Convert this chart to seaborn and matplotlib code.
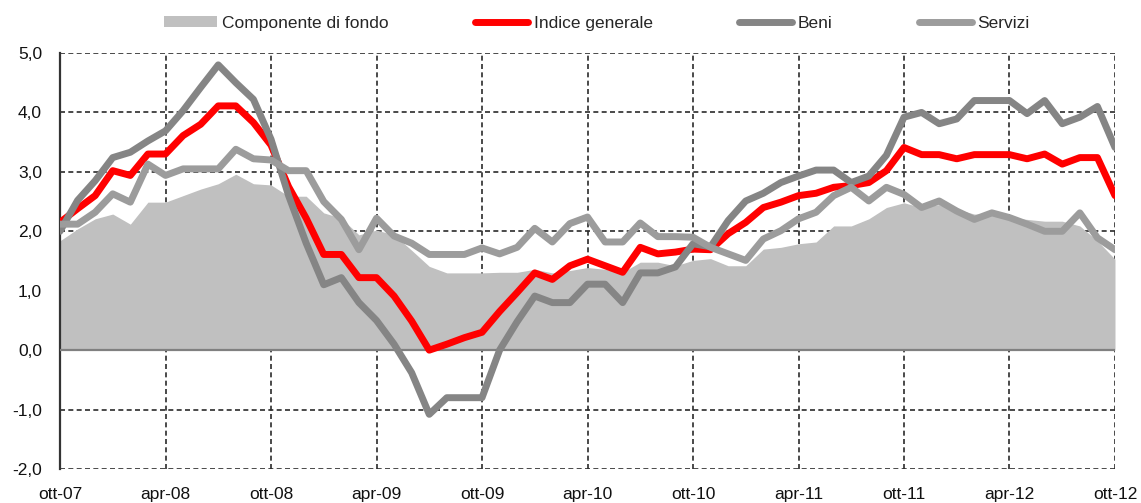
import matplotlib
matplotlib.use("Agg")
import matplotlib.pyplot as plt
import numpy as np
import pandas as pd
import seaborn as sns
from matplotlib import font_manager
from matplotlib.ticker import FuncFormatter

# monthly values, ott-07 .. ott-12 (61 months)
fondo = [1.84, 2.04, 2.21, 2.29, 2.12, 2.49, 2.49, 2.60, 2.71, 2.80, 2.96, 2.80,
         2.78, 2.59, 2.59, 2.31, 2.22, 1.94, 2.02, 1.94, 1.68, 1.41, 1.30, 1.30,
         1.30, 1.31, 1.31, 1.36, 1.30, 1.34, 1.39, 1.36, 1.31, 1.48, 1.48, 1.42,
         1.51, 1.54, 1.42, 1.42, 1.70, 1.73, 1.79, 1.82, 2.09, 2.09, 2.21, 2.40,
         2.48, 2.40, 2.45, 2.37, 2.29, 2.29, 2.23, 2.20, 2.17, 2.17, 2.09, 1.84,
         1.53]
indice = [2.15, 2.38, 2.60, 3.02, 2.94, 3.30, 3.30, 3.61, 3.80, 4.11, 4.11, 3.83,
          3.45, 2.75, 2.22, 1.61, 1.61, 1.22, 1.22, 0.91, 0.49, 0.00, 0.10, 0.21,
          0.30, 0.65, 0.97, 1.30, 1.19, 1.42, 1.53, 1.42, 1.31, 1.73, 1.62, 1.65,
          1.70, 1.69, 1.96, 2.15, 2.40, 2.49, 2.60, 2.64, 2.74, 2.77, 2.82, 3.02,
          3.41, 3.29, 3.29, 3.22, 3.29, 3.29, 3.29, 3.22, 3.30, 3.13, 3.24, 3.24,
          2.60]
beni = [2.00, 2.52, 2.85, 3.24, 3.33, 3.52, 3.69, 4.03, 4.42, 4.80, 4.50, 4.22,
        3.55, 2.60, 1.80, 1.10, 1.22, 0.80, 0.50, 0.10, -0.38, -1.08, -0.80, -0.80,
        -0.80, 0.00, 0.48, 0.91, 0.80, 0.80, 1.11, 1.11, 0.80, 1.30, 1.30, 1.40,
        1.79, 1.74, 2.18, 2.51, 2.64, 2.82, 2.93, 3.03, 3.03, 2.82, 2.93, 3.28,
        3.92, 4.00, 3.81, 3.89, 4.20, 4.20, 4.20, 3.98, 4.20, 3.81, 3.92, 4.10,
        3.41]
servizi = [2.12, 2.12, 2.32, 2.63, 2.49, 3.13, 2.94, 3.05, 3.05, 3.05, 3.38, 3.22,
           3.20, 3.02, 3.02, 2.50, 2.20, 1.69, 2.22, 1.92, 1.80, 1.61, 1.61, 1.61,
           1.72, 1.62, 1.73, 2.05, 1.82, 2.13, 2.24, 1.82, 1.82, 2.14, 1.91, 1.91,
           1.90, 1.73, 1.62, 1.51, 1.87, 2.01, 2.21, 2.32, 2.60, 2.74, 2.51, 2.74,
           2.62, 2.40, 2.51, 2.34, 2.20, 2.31, 2.23, 2.12, 2.00, 2.00, 2.31, 1.89,
           1.69]
tick_labels = ["ott-07", "apr-08", "ott-08", "apr-09", "ott-09", "apr-10",
               "ott-10", "apr-11", "ott-11", "apr-12", "ott-12"]

available = {f.name for f in font_manager.fontManager.ttflist}
if "Liberation Sans Narrow" in available:
    font_name, font_size = "Liberation Sans Narrow", 14.5
else:
    font_name, font_size = "Liberation Sans", 12.5

sns.set_theme(style="white")
plt.rcParams["font.family"] = [font_name, "DejaVu Sans"]

months = np.arange(len(indice))
df = pd.DataFrame({
    "mese": months,
    "Indice generale": indice,
    "Beni": beni,
    "Servizi": servizi,
})

fig = plt.figure(figsize=(11.41, 5.03), dpi=100)
ax = fig.add_axes([60 / 1141, 1 - 469 / 503, 1055 / 1141, 416 / 503])

ax.fill_between(months, fondo, color="#C0C0C0", lw=0, zorder=2,
                label="Componente di fondo")
ax.axhline(0, color="#808080", lw=1.6, zorder=3)

series_colors = {"Indice generale": "#FF0000", "Beni": "#858585", "Servizi": "#9C9C9C"}
for name, col in series_colors.items():
    sns.lineplot(data=df, x="mese", y=name, color=col, lw=5, ax=ax, label=name,
                 zorder=4, solid_capstyle="round")

ax.set_xlim(0, 60)
ax.set_ylim(-2, 5)
ax.set_xticks(range(0, 61, 6))
ax.set_xticklabels(tick_labels)
ax.set_yticks(range(-2, 6))
ax.yaxis.set_major_formatter(FuncFormatter(lambda v, p: f"{v:.1f}".replace(".", ",")))
ax.set_xlabel("")
ax.set_ylabel("")

ax.set_axisbelow(True)
ax.grid(True, color="#2b2b2b", ls=(0, (3, 2)), lw=1.2)
for side in ["top", "right", "bottom"]:
    ax.spines[side].set_visible(False)
ax.spines["left"].set_color("#333333")
ax.spines["left"].set_linewidth(1.6)
ax.tick_params(axis="both", length=0, labelsize=font_size, colors="#111111")
ax.tick_params(axis="y", pad=13)
ax.tick_params(axis="x", pad=13)

handles, labels = ax.get_legend_handles_labels()
if ax.get_legend() is not None:
    ax.get_legend().remove()
fig.legend(handles, labels, loc="center", bbox_to_anchor=(0.523, 0.954), ncol=4,
           frameon=False, handlelength=3.05, handleheight=0.55, handletextpad=0.3,
           columnspacing=5.0, fontsize=font_size)

fig.savefig("out.png", dpi=100)
plt.close(fig)
